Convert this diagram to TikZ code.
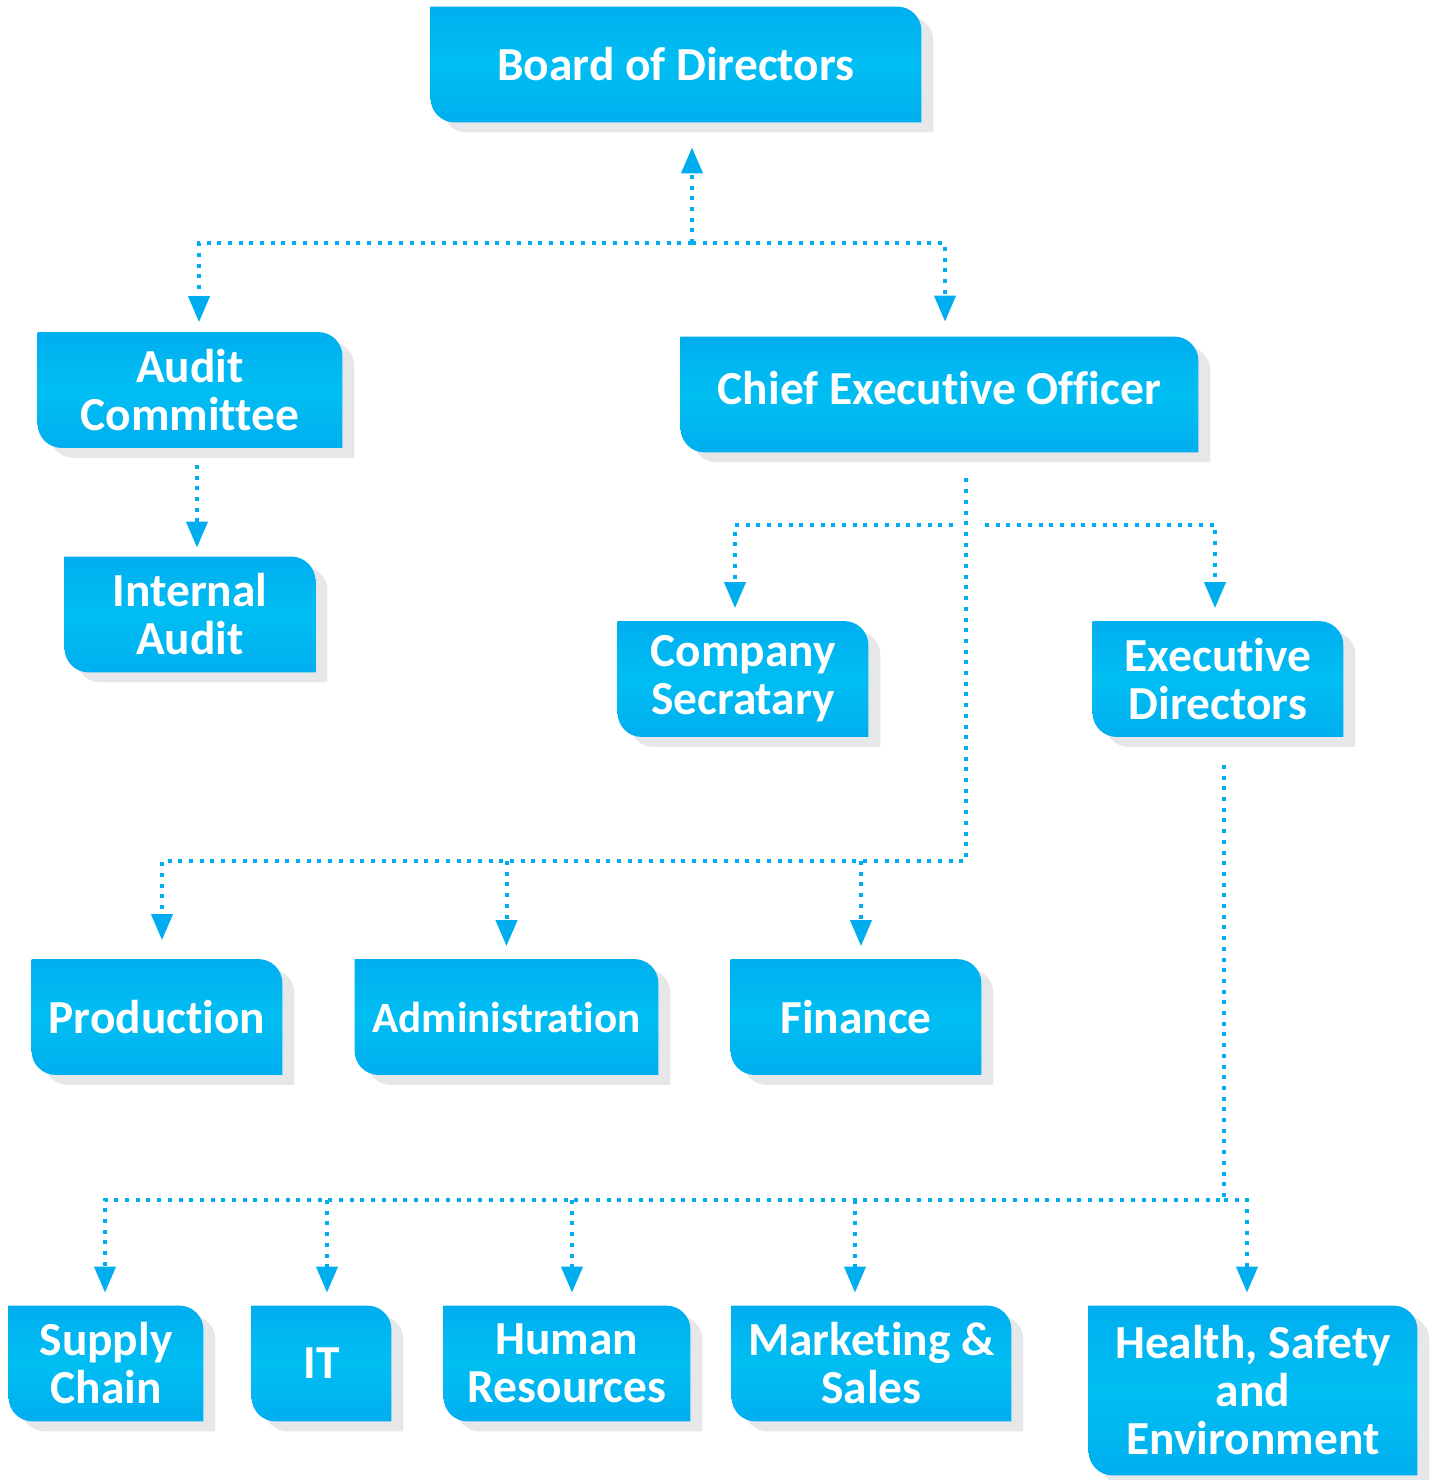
\documentclass[tikz,border=0pt]{standalone}
\usepackage{fontspec}
\setmainfont{Carlito}[RawFeature={-liga;-clig;-calt}]
\usepackage{tikz}
\usetikzlibrary{arrows.meta}
\usetikzlibrary{backgrounds}
\usetikzlibrary{shapes,positioning}

\definecolor{cyantop}{HTML}{00AEEF}
\definecolor{cyanmid}{HTML}{00BEF2}
\definecolor{shadowgray}{HTML}{E6E7E8}

\tikzset{>=stealth,
  unit/.style={inner sep=0pt,minimum height=57.5pt,align=center,text=white,
    font=\fontsize{23.7}{24}\selectfont\bfseries},
  link/.style={draw=cyantop,line width=2pt,dash pattern=on 2pt off 3.35pt,
    -{Triangle[width=10.5pt,length=13pt]},shorten >=6.5pt}}

% box with rounded top right and bottom left corners
\newcommand{\boxoutline}[3]{([xshift=#2,yshift=#3]#1.north west)
  -- ([xshift=#2,yshift=#3,xshift=-12pt]#1.north east)
  arc[start angle=90,end angle=0,radius=12pt]
  -- ([xshift=#2,yshift=#3]#1.south east)
  -- ([xshift=#2,yshift=#3,xshift=12pt]#1.south west)
  arc[start angle=270,end angle=180,radius=12pt] -- cycle}

\begin{document}
\begin{tikzpicture}[x=0.5pt,y=-0.5pt,line cap=butt]

  \useasboundingbox (0,0) rectangle (1433,1480);

  \node [unit,minimum width=245pt] (board) at (676,64.5) {Board of Directors};

  \node [unit,minimum width=152pt] (audit) at (190,390) {Audit\\Committee};
  \node [unit,minimum width=258.5pt] (ceo) at (939.5,394.5)
    {\raisebox{3pt}[\height][\depth]{Chief Executive Officer}};

  \node [unit,minimum width=125pt] (intaudit) at (190,614.5) {Internal\\Audit};
  \node [unit,minimum width=125pt] (secretary) at (743,679) {Company\\Secratary};
  \node [unit,minimum width=125pt] (execdir) at (1218,679) {Executive\\Directors};

  \node [unit,minimum width=125pt] (production) at (157,1017) {Production};
  \node [unit,minimum width=151.5pt,font=\fontsize{21.6}{24}\selectfont\bfseries]
    (admin) at (506.5,1017) {Administration};
  \node [unit,minimum width=125pt] (finance) at (856,1017) {Finance};

  \node [unit,minimum width=97pt] (supply) at (106,1363.5) {Supply\\Chain};
  \node [unit,minimum width=69.5pt] (it) at (321.5,1363.5) {IT};
  \node [unit,minimum width=123pt] (hr) at (567,1363.5) {Human\\Resources};
  \node [unit,minimum width=139.5pt] (marketing) at (871.5,1363.5) {Marketing \&\\Sales};
  \node [unit,minimum width=164pt,minimum height=84.5pt] (hse) at (1253,1390.5)
    {Health, Safety\\and\\Environment};

  \begin{scope}[on background layer]
    \foreach \n in {board,audit,ceo,intaudit,secretary,execdir,production,
      admin,finance,supply,it,hr,marketing,hse} {
      \fill [shadowgray] \boxoutline{\n}{6pt}{-5pt};
      \shade [top color=cyantop,bottom color=cyantop,middle color=cyanmid]
        \boxoutline{\n}{0pt}{0pt};
    }
  \end{scope}

  % board level
  \coordinate (bod-fork) at (692,243);
  \draw [link,shorten >=12.5pt] (bod-fork) -- (bod-fork |- board.south);
  \draw [link,shorten >=5pt] (bod-fork) -| ([xshift=4.5pt]audit.north);
  \draw [link,shorten >=7.5pt] (bod-fork) -| ([xshift=2.75pt]ceo.north);

  \draw [link,shorten <=8.5pt,shorten >=4.5pt] ([xshift=3.5pt]audit.south)
    -- ([xshift=3.5pt]intaudit.north);

  % ceo level
  \coordinate (ceo-mid) at (966,525);
  \coordinate (ceo-fork) at (966,861);
  \draw [link] ([xshift=-6.5pt]ceo-mid) -| ([xshift=-4pt]secretary.north);
  \draw [link] ([xshift=9.5pt]ceo-mid) -| ([xshift=-1.5pt]execdir.north);

  \draw [link,shorten <=13pt,shorten >=9.5pt] ([xshift=13.25pt]ceo.south)
    -- (ceo-fork) -| ([xshift=2.5pt]production.north);
  \draw [link] (ceo-fork -| admin.north) -- (admin.north);
  \draw [link] ([xshift=2.5pt]finance.north |- ceo-fork) -- ([xshift=2.5pt]finance.north);

  % executive directors level
  \coordinate (ed-fork) at (1224,1200);
  \draw [link,shorten <=14pt] ([xshift=3pt]execdir.south) -- (ed-fork)
    -| ([xshift=-0.5pt]supply.north);
  \draw [link] (ed-fork) -| ([xshift=-3pt]hse.north);
  \draw [link] ([xshift=2.75pt]it.north |- ed-fork) -- ([xshift=2.75pt]it.north);
  \draw [link] ([xshift=2.5pt]hr.north |- ed-fork) -- ([xshift=2.5pt]hr.north);
  \draw [link] ([xshift=-8.25pt]marketing.north |- ed-fork)
    -- ([xshift=-8.25pt]marketing.north);

\end{tikzpicture}
\end{document}
